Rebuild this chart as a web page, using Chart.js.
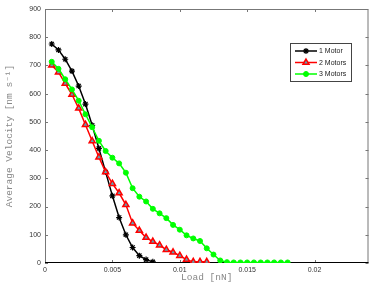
<!DOCTYPE html>
<html>
<head>
<meta charset="utf-8">
<script src="https://cdn.jsdelivr.net/npm/chart.js@4"></script>
<style>
body { margin: 0; background: #fff; }
#wrap { width: 374px; height: 285px; position: relative; }
</style>
</head>
<body>
<div id="wrap"><canvas id="chart"></canvas></div>
<script>
// load values [nN] and average velocity [nm/s]
var load1 = [0.0005, 0.001, 0.0015, 0.002, 0.0025, 0.003, 0.0035, 0.004,
  0.0045, 0.005, 0.0055, 0.006, 0.0065, 0.007, 0.0075, 0.008];
var vel1 = [776, 755, 722, 680, 627, 563, 488, 406,
  322, 238, 161, 100, 55, 26, 12, 4];

var load2 = [0.0005, 0.001, 0.0015, 0.002, 0.0025, 0.003, 0.0035, 0.004,
  0.0045, 0.005, 0.0055, 0.006, 0.0065, 0.007, 0.0075, 0.008,
  0.0085, 0.009, 0.0095, 0.01, 0.0105, 0.011, 0.0115, 0.012];
var vel2 = [701, 676, 636, 597, 548, 490, 432, 375,
  322, 281, 248, 206, 141, 115, 90, 76,
  63, 47, 38, 26, 12, 4, 4, 4];

var load3 = [0.0005, 0.001, 0.0015, 0.002, 0.0025, 0.003, 0.0035, 0.004,
  0.0045, 0.005, 0.0055, 0.006, 0.0065, 0.007, 0.0075, 0.008,
  0.0085, 0.009, 0.0095, 0.01, 0.0105, 0.011, 0.0115, 0.012,
  0.0125, 0.013, 0.0135, 0.014, 0.0145, 0.015, 0.0155, 0.016,
  0.0165, 0.017, 0.0175, 0.018];
var vel3 = [713, 688, 651, 615, 575, 527, 481, 433,
  397, 373, 353, 320, 265, 235, 218, 192,
  176, 159, 135, 118, 98, 87, 78, 52,
  30, 9, 3, 2, 2, 2, 2, 2,
  2, 2, 2, 2];

var seriesNames = ['1 Motor', '2 Motors', '3 Motors'];
var xTickVals = [0, 0.005, 0.01, 0.015, 0.02];
var yTickVals = [0, 100, 200, 300, 400, 500, 600, 700, 800, 900];

function pairUp(xs, ys) {
  return xs.map((x, i) => ({ x: x, y: ys[i] }));
}

// box round the plot with inward ticks, like matlab
const framePlugin = {
  id: 'frame',
  beforeDatasetsDraw(chart) {
    const { ctx, chartArea: a, scales: { x, y } } = chart;
    ctx.save();
    ctx.lineWidth = 1;
    ctx.strokeStyle = '#777';
    ctx.beginPath();
    ctx.moveTo(a.left + 0.5, a.bottom);
    ctx.lineTo(a.left + 0.5, a.top + 0.5);
    ctx.lineTo(a.right - 0.5, a.top + 0.5);
    ctx.lineTo(a.right - 0.5, a.bottom);
    xTickVals.forEach(v => {
      const px = Math.round(x.getPixelForValue(v)) + 0.5;
      ctx.moveTo(px, a.bottom); ctx.lineTo(px, a.bottom - 3);
      ctx.moveTo(px, a.top); ctx.lineTo(px, a.top + 3);
    });
    yTickVals.forEach(v => {
      const py = Math.round(y.getPixelForValue(v)) + 0.5;
      ctx.moveTo(a.left, py); ctx.lineTo(a.left + 3, py);
      ctx.moveTo(a.right, py); ctx.lineTo(a.right - 3, py);
    });
    ctx.stroke();
    ctx.strokeStyle = '#000';
    ctx.beginPath();
    ctx.moveTo(a.left, a.bottom - 0.5);
    ctx.lineTo(a.right, a.bottom - 0.5);
    ctx.stroke();
    ctx.restore();
  }
};

// legend box inside the plot, top right
const boxLegend = {
  id: 'boxLegend',
  afterDatasetsDraw(chart) {
    const ctx = chart.ctx;
    const bx = 290, by = 43, bw = 61, bh = 38;
    ctx.save();
    ctx.fillStyle = '#fff';
    ctx.fillRect(bx, by, bw, bh);
    ctx.strokeStyle = '#444';
    ctx.lineWidth = 1;
    ctx.strokeRect(bx + 0.5, by + 0.5, bw, bh);
    chart.data.datasets.forEach((ds, i) => {
      const ly = by + 8 + i * 11.5;
      ctx.strokeStyle = ds.borderColor;
      ctx.lineWidth = ds.borderWidth;
      ctx.beginPath();
      ctx.moveTo(bx + 5, ly);
      ctx.lineTo(bx + 27, ly);
      ctx.stroke();
      ctx.fillStyle = ds.pointBackgroundColor;
      ctx.strokeStyle = ds.borderColor;
      ctx.lineWidth = ds.pointBorderWidth;
      Chart.helpers.drawPoint(ctx, {
        pointStyle: ds.pointStyle, radius: ds.pointRadius,
        borderWidth: ds.pointBorderWidth, rotation: 0
      }, bx + 16, ly);
      ctx.fillStyle = '#222';
      ctx.font = '7px "Liberation Sans", Arial, sans-serif';
      ctx.textBaseline = 'middle';
      ctx.fillText(ds.label, bx + 29, ly + 0.5);
    });
    ctx.restore();
  }
};

const ctx1 = document.getElementById('chart');
const lineChart = new Chart(ctx1, {
  type: 'line',
  data: {
    datasets: [{
      label: seriesNames[0],
      data: pairUp(load1, vel1),
      borderColor: '#000000',
      backgroundColor: '#000000',
      pointBackgroundColor: '#000000',
      borderWidth: 1.5,
      pointStyle: 'star',
      pointRadius: 3,
      pointBorderWidth: 1.2,
      order: 2
    }, {
      label: seriesNames[1],
      data: pairUp(load2, vel2),
      borderColor: '#ff0000',
      backgroundColor: '#ff0000',
      pointBackgroundColor: '#5fa3b3',
      borderWidth: 1.5,
      pointStyle: 'triangle',
      pointRadius: 3.5,
      pointBorderWidth: 1.5,
      order: 1
    }, {
      label: seriesNames[2],
      data: pairUp(load3, vel3),
      borderColor: '#00ff00',
      backgroundColor: '#00ff00',
      pointBackgroundColor: '#00ff00',
      borderWidth: 1.5,
      pointStyle: 'circle',
      pointRadius: 2.5,
      pointBorderWidth: 1,
      order: 0
    }]
  },
  options: {
    responsive: true,
    maintainAspectRatio: false,
    animation: false,
    layout: { padding: { top: 9, right: 4, left: 0, bottom: 0 } },
    plugins: {
      legend: { display: false },
      tooltip: { enabled: false }
    },
    elements: { line: { tension: 0 } },
    scales: {
      x: {
        type: 'linear',
        min: 0,
        max: 0.024,
        afterBuildTicks: s => { s.ticks = xTickVals.map(v => ({ value: v })); },
        afterFit: s => { s.height = 22; },
        grid: { display: false, drawTicks: false },
        border: { display: false },
        ticks: {
          padding: 3,
          color: '#333',
          font: { family: '"Liberation Sans", Arial, sans-serif', size: 7 },
          maxRotation: 0,
          callback: v => String(v)
        },
        title: {
          display: true,
          text: 'Load [nN]',
          color: '#888',
          padding: { top: 0, bottom: 2 },
          font: { family: '"Liberation Mono", "DejaVu Sans Mono", monospace', size: 9.5 }
        }
      },
      y: {
        min: 0,
        max: 900,
        afterBuildTicks: s => { s.ticks = yTickVals.map(v => ({ value: v })); },
        afterFit: s => { s.width = 45; },
        grid: { display: false, drawTicks: false },
        border: { display: false },
        ticks: {
          padding: 4,
          color: '#333',
          font: { family: '"Liberation Sans", Arial, sans-serif', size: 7 }
        },
        title: {
          display: true,
          text: 'Average Velocity [nm s\u207B\u00B9]',
          color: '#888',
          padding: { top: 4, bottom: 0 },
          font: { family: '"Liberation Mono", "DejaVu Sans Mono", monospace', size: 9.5 }
        }
      }
    }
  },
  plugins: [framePlugin, boxLegend]
});
</script>
</body>
</html>
